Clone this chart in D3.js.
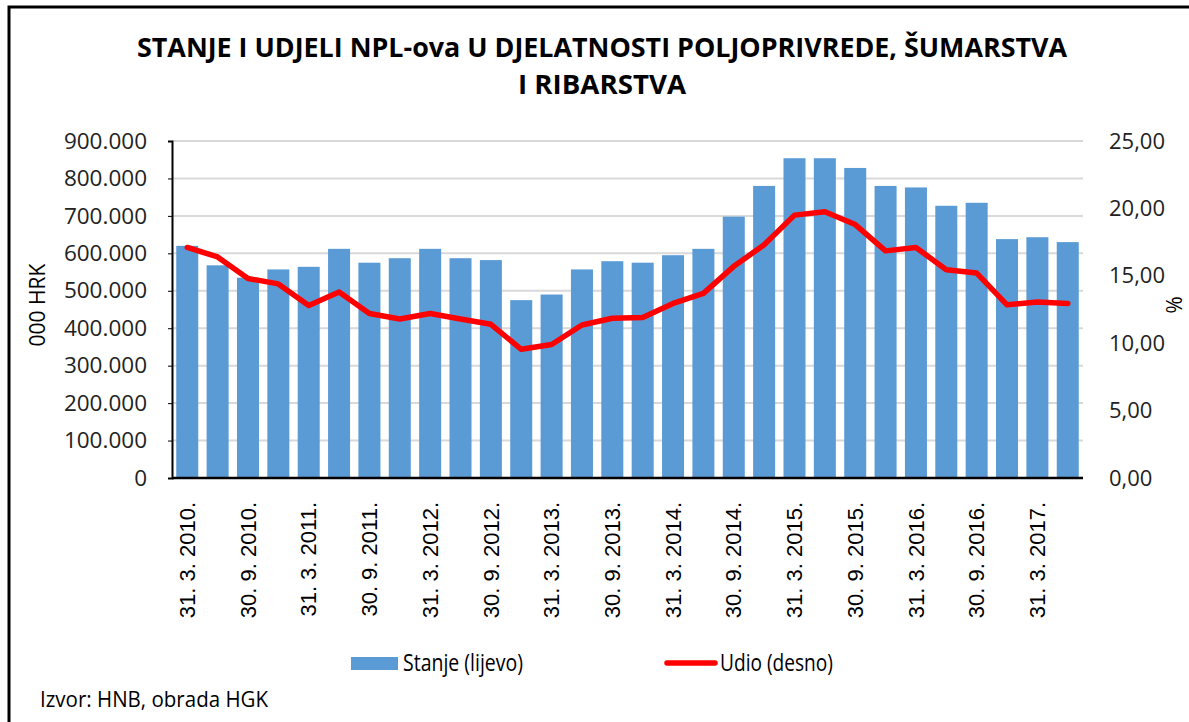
<!DOCTYPE html>
<html>
<head>
<meta charset="utf-8">
<script src="https://cdn.jsdelivr.net/npm/d3@7"></script>
<style>
  body { margin: 0; background: #fff; }
  svg { display: block; }
</style>
</head>
<body>
<div id="chart"></div>
<script>
// quarterly dates, 31.3.2010 - 30.6.2017
var dates = [
  "31. 3. 2010.", "30. 6. 2010.", "30. 9. 2010.", "31. 12. 2010.",
  "31. 3. 2011.", "30. 6. 2011.", "30. 9. 2011.", "31. 12. 2011.",
  "31. 3. 2012.", "30. 6. 2012.", "30. 9. 2012.", "31. 12. 2012.",
  "31. 3. 2013.", "30. 6. 2013.", "30. 9. 2013.", "31. 12. 2013.",
  "31. 3. 2014.", "30. 6. 2014.", "30. 9. 2014.", "31. 12. 2014.",
  "31. 3. 2015.", "30. 6. 2015.", "30. 9. 2015.", "31. 12. 2015.",
  "31. 3. 2016.", "30. 6. 2016.", "30. 9. 2016.", "31. 12. 2016.",
  "31. 3. 2017.", "30. 6. 2017."
];
// Stanje (lijevo), 000 HRK
var stanje = [
  620000, 568000, 535000, 557000, 564000, 612000, 575000, 587000,
  612000, 587000, 582000, 475000, 490000, 557000, 579000, 575000,
  595000, 612000, 698000, 780000, 854000, 854000, 828000, 780000,
  776000, 727000, 735000, 638000, 643000, 630000
];
// Udio (desno), %
var udio = [
  17.1, 16.4, 14.8, 14.4, 12.8, 13.8, 12.2, 11.8,
  12.2, 11.8, 11.4, 9.55, 9.9, 11.35, 11.85, 11.9,
  12.95, 13.7, 15.7, 17.3, 19.5, 19.75, 18.8, 16.85,
  17.1, 15.45, 15.2, 12.85, 13.05, 12.95
];
var leftTicks = [0, 100000, 200000, 300000, 400000, 500000, 600000, 700000, 800000, 900000];
var rightTicks = [0, 5, 10, 15, 20, 25];
var titleLines = ["STANJE I UDJELI NPL-ova U DJELATNOSTI POLJOPRIVREDE, ŠUMARSTVA", "I RIBARSTVA"];
var titleWidths = [930, 168];

var W = 1189, H = 722;
var margin = { top: 141, right: 106, bottom: 244, left: 172 },
    width = W - margin.left - margin.right,
    height = H - margin.top - margin.bottom;

var data = dates.map(function (d, i) { return { date: d, stanje: stanje[i], udio: udio[i] }; });

var svg = d3.select("#chart").append("svg")
    .attr("width", W)
    .attr("height", H);

// frame
svg.append("rect")
    .attr("x", 9).attr("y", 7)
    .attr("width", W + 10).attr("height", H + 10)
    .attr("fill", "none")
    .attr("stroke", "#000")
    .attr("stroke-width", 3);

// title (condensed like the original)
svg.append("g").selectAll("text")
    .data(titleLines)
    .enter().append("text")
    .attr("x", 602)
    .attr("y", function (d, i) { return 57 + i * 37; })
    .attr("text-anchor", "middle")
    .attr("textLength", function (d, i) { return titleWidths[i]; })
    .attr("lengthAdjust", "spacingAndGlyphs")
    .style("font-family", "'Open Sans', sans-serif")
    .style("font-weight", "bold")
    .style("font-size", "26px")
    .text(function (d) { return d; });

var g = svg.append("g")
    .attr("transform", "translate(" + margin.left + "," + margin.top + ")");

var x = d3.scaleBand()
    .domain(dates)
    .range([0, width])
    .paddingInner(0.275)
    .paddingOuter(0.14);

var y = d3.scaleLinear().domain([0, 900000]).range([height, 0]);
var y2 = d3.scaleLinear().domain([0, 25]).range([height, 0]);

// gridlines
g.append("g").selectAll("line")
    .data(leftTicks.slice(1))
    .enter().append("line")
    .attr("x1", 0).attr("x2", width)
    .attr("y1", function (d) { return y(d); })
    .attr("y2", function (d) { return y(d); })
    .attr("stroke", "#d9d9d9")
    .attr("stroke-width", 2);

// bars
g.selectAll(".bar")
    .data(data)
    .enter().append("rect")
    .attr("class", "bar")
    .attr("x", function (d) { return x(d.date); })
    .attr("y", function (d) { return y(d.stanje); })
    .attr("width", x.bandwidth())
    .attr("height", function (d) { return height - y(d.stanje); })
    .attr("fill", "#5b9bd5");

// line
var line = d3.line()
    .x(function (d) { return x(d.date) + x.bandwidth() / 2; })
    .y(function (d) { return y2(d.udio); });

g.append("path")
    .attr("d", line(data))
    .attr("fill", "none")
    .attr("stroke", "#ff0000")
    .attr("stroke-width", 5.5)
    .attr("stroke-linejoin", "round")
    .attr("stroke-linecap", "round");

// left axis
var fmtLeft = function (d) { return d === 0 ? "0" : d3.format(",")(d).replace(/,/g, "."); };
var yAxis = g.append("g")
    .call(d3.axisLeft(y).tickValues(leftTicks).tickFormat(fmtLeft).tickSize(4).tickPadding(21));
yAxis.select(".domain").attr("stroke", "#000").attr("stroke-width", 2);
yAxis.selectAll(".tick line").attr("stroke", "#000").attr("stroke-width", 1);
yAxis.selectAll("text")
    .style("font-family", "'Open Sans', sans-serif")
    .style("font-size", "22.5px")
    .attr("fill", "#222");

// right axis
var fmtRight = function (d) { return d3.format(".2f")(d).replace(".", ","); };
var yAxis2 = g.append("g")
    .attr("transform", "translate(" + width + ",0)")
    .call(d3.axisRight(y2).tickValues(rightTicks).tickFormat(fmtRight).tickSize(0).tickPadding(26));
yAxis2.select(".domain").remove();
yAxis2.selectAll("text")
    .style("font-family", "'Open Sans', sans-serif")
    .style("font-size", "22px")
    .attr("fill", "#222");

// bottom axis
var xAxis = g.append("g")
    .attr("transform", "translate(0," + height + ")")
    .call(d3.axisBottom(x).tickSize(0).tickFormat(function (d, i) { return i % 2 === 0 ? d : ""; }));
xAxis.select(".domain").attr("stroke", "#000").attr("stroke-width", 2.5)
    .attr("d", "M0,0H" + width);
xAxis.selectAll("text")
    .attr("transform", "rotate(-90)")
    .attr("x", -24)
    .attr("y", 0)
    .attr("dy", "0.35em")
    .style("text-anchor", "end")
    .style("font-family", "'Liberation Sans', Arial, sans-serif")
    .style("font-size", "22px")
    .attr("fill", "#000");

// axis titles
svg.append("text")
    .attr("transform", "translate(45,305) rotate(-90)")
    .attr("text-anchor", "middle")
    .style("font-family", "'Open Sans', sans-serif")
    .style("font-size", "21px")
    .style("font-weight", "500")
    .text("000 HRK");

svg.append("text")
    .attr("transform", "translate(1166,305) rotate(90)")
    .attr("text-anchor", "middle")
    .style("font-family", "'Open Sans', sans-serif")
    .style("font-size", "21px")
    .text("%");

// legend
var legend = svg.append("g").style("font-family", "'Open Sans', sans-serif")
    .style("font-size", "23px");
legend.append("rect")
    .attr("x", 351).attr("y", 657).attr("width", 47).attr("height", 13)
    .attr("fill", "#5b9bd5");
legend.append("text").attr("x", 403).attr("y", 671)
    .attr("textLength", 120).attr("lengthAdjust", "spacingAndGlyphs")
    .text("Stanje (lijevo)");
legend.append("line")
    .attr("x1", 667).attr("x2", 715).attr("y1", 663).attr("y2", 663)
    .attr("stroke", "#ff0000").attr("stroke-width", 5.5).attr("stroke-linecap", "round");
legend.append("text").attr("x", 720).attr("y", 671)
    .attr("textLength", 113).attr("lengthAdjust", "spacingAndGlyphs")
    .text("Udio (desno)");

// source
svg.append("text")
    .attr("x", 40).attr("y", 707)
    .attr("textLength", 228).attr("lengthAdjust", "spacingAndGlyphs")
    .style("font-family", "'Open Sans', sans-serif")
    .style("font-size", "21px")
    .text("Izvor: HNB, obrada HGK");
</script>
</body>
</html>
